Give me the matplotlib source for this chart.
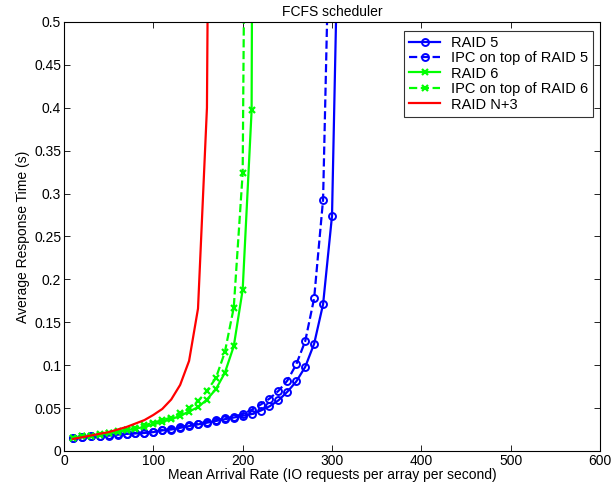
import matplotlib
matplotlib.use('Agg')
import matplotlib.pyplot as plt

plt.rcParams['font.family'] = ['Liberation Sans', 'DejaVu Sans']
plt.rcParams['font.size'] = 10

# Mean arrival rate (IO requests per array per second)
rate_raid5 = [10, 20, 30, 40, 50, 60, 70, 80, 90, 100, 110, 120, 130, 140, 150, 160,
              170, 180, 190, 200, 210, 220, 230, 240, 250, 260, 270, 280, 290, 300, 310]
resp_raid5 = [0.0155, 0.016, 0.017, 0.0175, 0.018, 0.019, 0.020, 0.0205, 0.021, 0.022,
              0.024, 0.025, 0.027, 0.029, 0.031, 0.033, 0.035, 0.037, 0.039, 0.041,
              0.043, 0.047, 0.052, 0.059, 0.069, 0.081, 0.098, 0.125, 0.171, 0.274, 0.78]

rate_ipc5 = rate_raid5[:-1]
resp_ipc5 = [0.0155, 0.016, 0.017, 0.0178, 0.0185, 0.0193, 0.020, 0.021, 0.0215, 0.0225,
             0.0245, 0.026, 0.028, 0.030, 0.032, 0.034, 0.036, 0.038, 0.040, 0.043,
             0.048, 0.054, 0.061, 0.070, 0.082, 0.101, 0.128, 0.178, 0.293, 0.76]

rate_raid6 = [10, 20, 30, 40, 50, 60, 70, 80, 90, 100, 110, 120, 130, 140, 150, 160,
              170, 180, 190, 200, 210, 220]
resp_raid6 = [0.0155, 0.017, 0.018, 0.019, 0.021, 0.022, 0.024, 0.026, 0.028, 0.031,
              0.034, 0.037, 0.041, 0.046, 0.051, 0.060, 0.072, 0.091, 0.122, 0.188,
              0.397, 3.5]

rate_ipc6 = rate_raid6[:-1]
resp_ipc6 = [0.0155, 0.017, 0.018, 0.020, 0.021, 0.023, 0.025, 0.027, 0.030, 0.033,
             0.036, 0.039, 0.044, 0.050, 0.058, 0.070, 0.085, 0.115, 0.167, 0.324, 1.7]

rate_n3 = [10, 20, 30, 40, 50, 60, 70, 80, 90, 100, 110, 120, 130, 140, 150, 160, 170]
resp_n3 = [0.014, 0.016, 0.018, 0.020, 0.022, 0.025, 0.028, 0.032, 0.036, 0.042,
           0.049, 0.060, 0.077, 0.105, 0.166, 0.40, 1.9]

fig = plt.figure(figsize=(6.12, 4.91), dpi=100)
ax = fig.add_axes([0.1046, 0.0815, 0.8758, 0.8737])

lw = 1.6
ax.plot(rate_raid5, resp_raid5, '-', color='#0000ff', lw=lw, marker='o', ms=5,
        mfc='none', mew=1.4, label='RAID 5')
ax.plot(rate_ipc5, resp_ipc5, '--', color='#0000ff', lw=lw, marker='o', ms=5,
        mfc='none', mew=1.4, label='IPC on top of RAID 5')
ax.plot(rate_raid6, resp_raid6, '-', color='#00ff00', lw=lw, marker='x', ms=4,
        mew=1.6, label='RAID 6')
ax.plot(rate_ipc6, resp_ipc6, '--', color='#00ff00', lw=lw, marker='x', ms=4,
        mew=1.6, label='IPC on top of RAID 6')
ax.plot(rate_n3, resp_n3, '-', color='#ff0000', lw=lw, label='RAID N+3')

ax.set_xlim(0, 600)
ax.set_ylim(0, 0.5)
ax.set_xticks([0, 100, 200, 300, 400, 500, 600])
ax.set_yticks([0, 0.05, 0.1, 0.15, 0.2, 0.25, 0.3, 0.35, 0.4, 0.45, 0.5])
ax.set_yticklabels(['0', '0.05', '0.1', '0.15', '0.2', '0.25', '0.3', '0.35', '0.4', '0.45', '0.5'])
ax.tick_params(direction='in', top=True, right=True, length=4, width=0.6, pad=2)
for s in ax.spines.values():
    s.set_linewidth(0.8)

ax.set_xlabel('Mean Arrival Rate (IO requests per array per second)', labelpad=0)
ax.set_ylabel('Average Response Time (s)', labelpad=3)
ax.set_title('FCFS scheduler', pad=4, fontsize=10)

leg = ax.legend(loc='upper right', bbox_to_anchor=(0.987, 0.98), fancybox=False,
                edgecolor='black', handlelength=2.1, labelspacing=0.1,
                borderpad=0.35, handletextpad=0.75, borderaxespad=0,
                prop={'size': 10.5})
leg.get_frame().set_linewidth(0.8)

fig.savefig('out.png', dpi=100)
